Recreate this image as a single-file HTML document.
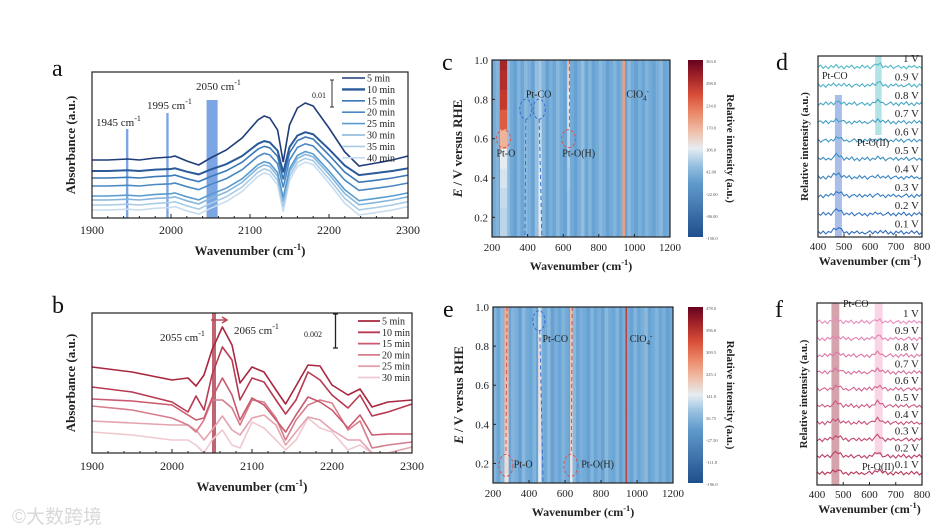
<!DOCTYPE html>
<html><head><meta charset="utf-8">
<style>
html,body{margin:0;padding:0;background:#fff;}
svg{display:block;font-family:"Liberation Serif","Noto Serif CJK SC",serif;}
</style></head>
<body>
<svg id="fig" width="947" height="532" viewBox="0 0 947 532" xmlns="http://www.w3.org/2000/svg">
<rect width="947" height="532" fill="#fff"/>
<text x="12" y="523" font-family="'Liberation Sans','Noto Sans CJK SC',sans-serif" font-size="19" fill="#d8d8d8">©大数跨境</text>
</svg>
<script>
// ---------------- DATA ----------------
// panel a
const aX = [1900,1920,1945,1960,1980,2000,2005,2020,2035,2050,2070,2090,2110,2118,2125,2135,2142,2150,2160,2170,2180,2200,2220,2238,2260,2280,2300];
const aShape = [0,0,1,0,2,3,4,-1,-5,2,10,22,40,44,42,30,-2,35,52,57,54,32,8,-6,-3,0,4];
const aOffset = [58,47,40,32,22,18,13,8];
const aAmp = [1.0,0.68,0.72,0.74,0.78,0.8,0.82,0.84];
const aLabels = ["5 min","10 min","15 min","20 min","25 min","30 min","35 min","40 min"];
const aColors = ["#1f3d7a","#2a5a9a","#3a78b8","#4a88c4","#5a9ccf","#86b6dc","#a8cbe6","#c8dcef"];
// panel b
const bX = [1900,1950,2000,2020,2030,2040,2050,2063,2075,2085,2100,2115,2130,2142,2155,2170,2185,2200,2220,2235,2250,2270,2300];
const b5 = [86,81,73,75,67,78,103,126,108,70,86,81,63,49,67,88,87,68,58,64,46,51,53];
const b10 = [66,61,51,41,57,43,78,106,93,53,75,71,53,39,53,81,73,58,45,58,37,41,49];
const b15 = [54,52,48,38,33,35,55,75,58,33,55,48,33,21,38,56,51,43,25,38,18,19,19];
const b20 = [47,43,35,28,21,33,53,53,45,28,53,51,35,13,33,48,53,50,23,32,5,8,11];
const b25 = [32,30,28,28,23,13,23,37,23,18,35,38,28,8,21,36,33,23,13,13,0,0,6];
const b30 = [21,18,13,13,8,0,13,23,8,5,31,25,13,3,13,35,25,21,3,8,0,0,0];
const bSeries = [b5,b10,b15,b20,b25,b30];
const bLabels = ["5 min","10 min","15 min","20 min","25 min","30 min"];
const bColors = ["#a8263e","#b83a52","#c95a6e","#d67d8c","#e4a3ae","#f0c8cf"];
// heatmaps: columns 200..1200 step 20, rows 0.1..1.0
const hmRows = [0.1,0.2,0.3,0.4,0.5,0.6,0.7,0.8,0.9,1.0];
const cBg = [0.36,0.38,0.34,0.37,0.40,0.36,0.33,0.38,0.35,0.39,0.37,0.34,0.40,0.36,0.38,0.33,0.37,0.35,0.39,0.36,0.34,0.38,0.36,0.33,0.37,0.40,0.35,0.38,0.34,0.36,0.39,0.37,0.33,0.36,0.38,0.35,0.37,0.34,0.39,0.36,0.33,0.37,0.35,0.38,0.36,0.34,0.37,0.39,0.35,0.36];
const cBandCenters = [265,470,630,940];
const cBandWidths = [40,18,14,14];
const cBandPtO = [0.45,0.45,0.46,0.48,0.5,0.62,0.78,0.85,0.88,0.9];
const cBandPtCO = [0.52,0.5,0.5,0.5,0.48,0.47,0.45,0.45,0.42,0.42];
const cBandPtOH = [0.42,0.42,0.42,0.43,0.44,0.45,0.48,0.5,0.55,0.6];
const cBandClO4 = [0.66,0.66,0.66,0.66,0.66,0.66,0.66,0.66,0.66,0.66];
const cTicks = ["363.0","298.0","234.0","170.0","106.0","42.00","-22.00","-86.00","-150.0"];
const eBg = [0.38,0.35,0.39,0.36,0.34,0.38,0.37,0.33,0.39,0.36,0.35,0.38,0.34,0.37,0.36,0.39,0.33,0.37,0.35,0.38,0.36,0.34,0.39,0.35,0.37,0.36,0.33,0.38,0.35,0.37,0.34,0.39,0.36,0.35,0.38,0.33,0.37,0.36,0.34,0.38,0.35,0.37,0.39,0.34,0.36,0.38,0.35,0.37,0.33,0.36];
const eBandCenters = [275,460,635,940];
const eBandWidths = [24,18,14,8];
const eBandPtO = [0.52,0.54,0.56,0.58,0.6,0.6,0.62,0.62,0.63,0.64];
const eBandPtCO = [0.5,0.5,0.52,0.52,0.52,0.53,0.53,0.52,0.5,0.48];
const eBandPtOH = [0.5,0.52,0.55,0.56,0.57,0.58,0.58,0.58,0.6,0.6];
const eBandClO4 = [0.85,0.85,0.85,0.85,0.85,0.85,0.85,0.85,0.85,0.85];
const eTicks = ["478.0","396.8","309.5","225.3","141.0","56.75","-27.50","-111.8","-196.0"];
// stacked spectra d/f : 400..800 step 10
const sX = [400,410,420,430,440,450,460,470,480,490,500,510,520,530,540,550,560,570,580,590,600,610,620,630,640,650,660,670,680,690,700,710,720,730,740,750,760,770,780,790,800];
const sWiggle = [0,1.2,-0.8,0.6,-1.1,0.9,-0.4,1.3,-0.9,0.5,-1.2,0.8,-0.3,1.1,-1.0,0.4,-0.7,1.2,-0.5,0.9,-1.1,0.3,0.8,-0.6,1.0,-0.9,0.6,-0.4,1.1,-1.0,0.2,0.9,-0.8,0.5,-1.2,0.7,-0.3,1.0,-0.6,0.4,-0.9];
const vLabels = ["1 V","0.9 V","0.8 V","0.7 V","0.6 V","0.5 V","0.4 V","0.3 V","0.2 V","0.1 V"];
const dPeak475 = [0.5,1,1.5,2,3,4,4,4,4.5,5];
const dPeak630 = [3,3,3,2.5,1.5,1,1,1,1,1];
const fPeak475 = [2,2,2.5,3,3,3.5,3.5,3.5,4,3];
const fPeak630 = [2,3,3,3.5,3.5,4,4,4,4,3];

// ---------------- HELPERS ----------------
const NS = "http://www.w3.org/2000/svg";
const svg = document.getElementById("fig");
function mk(tag, attrs, parent){const e=document.createElementNS(NS,tag);for(const k in attrs)e.setAttribute(k,attrs[k]);(parent||svg).appendChild(e);return e;}
function txt(x,y,s,size,opts,parent){const t=mk("text",Object.assign({x:x,y:y,"font-size":size,fill:"#222"},opts||{}),parent);t.textContent=s;return t;}
function lin(d0,d1,r0,r1){return v=>r0+(v-d0)/(d1-d0)*(r1-r0);}
function cmap(v){
  const st=[[0,[31,78,140]],[0.35,[106,166,214]],[0.5,[230,237,242]],[0.65,[244,165,130]],[0.82,[214,69,47]],[1,[103,0,31]]];
  v=Math.max(0,Math.min(1,v));
  for(let i=1;i<st.length;i++){if(v<=st[i][0]){const a=st[i-1],b=st[i],t=(v-a[0])/(b[0]-a[0]);return "rgb("+a[1].map((c,k)=>Math.round(c+(b[1][k]-c)*t)).join(",")+")";}}
  return "rgb(103,0,31)";
}
function panelLetter(x,y,s,name){const t=txt(x,y,s,24,{fill:"#111"});}
function xTitle(cx,y,size,name){
  const t=mk("text",{x:cx,y:y,"font-size":size,"font-weight":"bold","text-anchor":"middle",fill:"#222"});
  t.innerHTML='Wavenumber (cm<tspan dy="-5" font-size="'+(size*0.7)+'">-1</tspan><tspan dy="5">)</tspan>';
  
  
  return t;
}
function yTitle(x,cy,s,size,name,html,rot){
  const t=mk("text",{x:0,y:0,"font-size":size,"font-weight":"bold","text-anchor":"middle",fill:"#222",transform:"translate("+x+","+cy+") rotate("+(rot||-90)+")"});
  if(html)t.innerHTML=html;else t.textContent=s;
  
  
  return t;
}
function frame(x0,y0,x1,y1,name){const r=mk("rect",{x:x0,y:y0,width:x1-x0,height:y1-y0,fill:"none",stroke:"#222","stroke-width":1.2});}
function xTicks(sx,ticks,minor,y1,labY,size,name){
  const g=mk("g",{});
  
  
  minor.forEach(v=>mk("line",{x1:sx(v),x2:sx(v),y1:y1,y2:y1-2,stroke:"#222"},g));
  ticks.forEach(v=>{mk("line",{x1:sx(v),x2:sx(v),y1:y1,y2:y1-4,stroke:"#222"},g);txt(sx(v),labY,String(v),size,{"text-anchor":"middle"},g);});
}
function sup(el,base,s){el.innerHTML=base+'<tspan dy="-5" font-size="8">'+s+'</tspan>';}

// ---------------- PANEL A ----------------
(function(){
  const x0=92,x1=408,y0=72,y1=218;
  const sx=lin(1900,2300,x0,x1), sy=lin(0,146,y1,y0);
  panelLetter(52,76,"a","panel-a-label");
  const bands=[[1943,1946,129,"band-1945"],[1994,1997,113,"band-1995"],[2045,2059,100,"band-2050"]];
  bands.forEach(b=>{const r=mk("rect",{x:sx(b[0]),y:b[2],width:sx(b[1])-sx(b[0]),height:y1-b[2],fill:"#5b8fdc","fill-opacity":0.8});});
  const l1=mk("text",{x:96,y:126,"font-size":11,fill:"#222"});sup(l1,"1945 cm","-1");
  const l2=mk("text",{x:147,y:109,"font-size":11,fill:"#222"});sup(l2,"1995 cm","-1");
  const l3=mk("text",{x:196,y:90,"font-size":11,fill:"#222"});sup(l3,"2050 cm","-1");
  for(let k=aOffset.length-1;k>=0;k--){
    const d=aX.map((x,i)=>(i?"L":"M")+sx(x).toFixed(1)+","+sy(aOffset[k]+aAmp[k]*aShape[i]).toFixed(1)).join("");
    const p=mk("path",{d:d,fill:"none",stroke:aColors[k],"stroke-width":k==1?2:1.6});
    
    
  }
  aLabels.forEach((s,k)=>{
    const y=78+k*11.4;
    const g=mk("g",{});
    
    
    mk("line",{x1:342,x2:365,y1:y,y2:y,stroke:aColors[k],"stroke-width":k==1?2.4:1.6},g);
    txt(367,y+3.5,s,10,{},g);
  });
  const sb=mk("path",{d:"M330,80H334M332,80V107M330,107H334",stroke:"#333",fill:"none"});
  
  
  const sbt=txt(312,98,"0.01",8);
  frame(x0,y0,x1,y1,"plot-frame-a");
  xTicks(sx,[1900,2000,2100,2200,2300],[1920,1940,1960,1980,2020,2040,2060,2080,2120,2140,2160,2180,2220,2240,2260,2280],y1,234,12,"x-axis-a");
  xTitle(250,255,13,"x-axis-title-a");
  yTitle(75,145,"Absorbance (a.u.)",13,"y-axis-title-a");
})();

// ---------------- PANEL B ----------------
(function(){
  const x0=92,x1=412,y0=313,y1=453;
  const sx=lin(1900,2300,x0,x1), sy=lin(0,140,y1,y0);
  panelLetter(52,313,"b","panel-b-label");
  const clip=mk("clipPath",{id:"clipb"});mk("rect",{x:x0,y:y0,width:x1-x0,height:y1-y0},clip);
  const band=mk("rect",{x:sx(2050),y:y0,width:sx(2055)-sx(2050),height:y1-y0,fill:"#b54a5a","fill-opacity":0.85});
  
  
  for(let k=bSeries.length-1;k>=0;k--){
    const d=bX.map((x,i)=>(i?"L":"M")+sx(x).toFixed(1)+","+sy(bSeries[k][i]).toFixed(1)).join("");
    const p=mk("path",{d:d,fill:"none",stroke:bColors[k],"stroke-width":1.6,"clip-path":"url(#clipb)","stroke-linejoin":"round"});
    
    
  }
  const arr=mk("path",{d:"M211,320H226M222,317L227,320L222,323",stroke:"#b54a5a",fill:"none","stroke-width":1.5});
  
  
  const l1=mk("text",{x:160,y:341,"font-size":11,fill:"#222"});sup(l1,"2055 cm","-1");
  const l2=mk("text",{x:234,y:334,"font-size":11,fill:"#222"});sup(l2,"2065 cm","-1");
  bLabels.forEach((s,k)=>{
    const y=321+k*11.3;
    const g=mk("g",{});
    
    
    mk("line",{x1:358,x2:380,y1:y,y2:y,stroke:bColors[k],"stroke-width":1.8},g);
    txt(382,y+3.5,s,10,{},g);
  });
  const sb=mk("path",{d:"M333,314H338M335.5,314V348M333,348H338",stroke:"#222",fill:"none","stroke-width":1.3});
  
  
  const sbt=txt(304,337,"0.002",8);
  frame(x0,y0,x1,y1,"plot-frame-b");
  xTicks(sx,[1900,2000,2100,2200,2300],[1920,1940,1960,1980,2020,2040,2060,2080,2120,2140,2160,2180,2220,2240,2260,2280],y1,470,12,"x-axis-b");
  xTitle(252,491,13,"x-axis-title-b");
  yTitle(75,383,"Absorbance (a.u.)",13,"y-axis-title-b");
})();

// ---------------- HEATMAPS ----------------
function heatmap(p){
  const sx=lin(200,1200,p.x0,p.x1), sy=lin(0.1,1.0,p.y1,p.y0);
  panelLetter(p.x0-50,p.y0+10,p.letter,"panel-"+p.letter+"-label");
  const clip=mk("clipPath",{id:"clip"+p.letter});mk("rect",{x:p.x0,y:p.y0,width:p.x1-p.x0,height:p.y1-p.y0},clip);
  const g=mk("g",{"clip-path":"url(#clip"+p.letter+")"});
  
  
  const dy=(p.y1-p.y0)/(hmRows.length-1);
  p.bg.forEach((b,j)=>{
    const wc=200+j*20;
    const col=mk("rect",{x:sx(wc),y:p.y0,width:sx(wc+20)-sx(wc)+0.5,height:p.y1-p.y0,fill:cmap(b)},g);
    
    
  });
  p.centers.forEach((c,m)=>{
    hmRows.forEach((r,i)=>{
      const cell=mk("rect",{x:sx(c-p.widths[m]/2),y:sy(r)-dy/2,width:sx(c+p.widths[m]/2)-sx(c-p.widths[m]/2),height:dy+0.5,fill:cmap(p.bands[m][i])},g);
      
      
    });
  });
  p.ann(sx,sy);
  frame(p.x0,p.y0,p.x1,p.y1,"plot-frame-"+p.letter);
  const xa=mk("g",{});
  
  
  [200,400,600,800,1000,1200].forEach(v=>{mk("line",{x1:sx(v),x2:sx(v),y1:p.y1,y2:p.y1-3,stroke:"#222"},xa);txt(sx(v),p.y1+14,String(v),11,{"text-anchor":"middle"},xa);});
  const ya=mk("g",{});
  
  
  [0.2,0.4,0.6,0.8,1.0].forEach(v=>{mk("line",{x1:p.x0,x2:p.x0+3,y1:sy(v),y2:sy(v),stroke:"#222"},ya);txt(p.x0-4,sy(v)+4,v.toFixed(1),11,{"text-anchor":"end"},ya);});
  xTitle((p.x0+p.x1)/2,p.y1+33,12,"x-axis-title-"+p.letter);
  yTitle(p.x0-30,(p.y0+p.y1)/2,"",13,"y-axis-title-"+p.letter,'<tspan font-style="italic">E</tspan> / V versus RHE');
  const defs=mk("defs",{});
  const lg=mk("linearGradient",{id:"cg"+p.letter,x1:0,y1:1,x2:0,y2:0},defs);
  for(let i=0;i<=10;i++)mk("stop",{offset:i/10,"stop-color":cmap(i/10)},lg);
  const cb=mk("rect",{x:688,y:p.y0,width:15,height:p.y1-p.y0,fill:"url(#cg"+p.letter+")"});
  
  
  const cl=mk("g",{});
  
  
  p.ticks.forEach((s,i)=>txt(706,p.y0+3+i*(p.y1-p.y0)/8,s,4.5,{fill:"#555"},cl));
  yTitle(727,(p.y0+p.y1)/2,"Relative intensity (a.u.)",11,"colorbar-title-"+p.letter,null,90);
}
function dashEll(cx,cy,rx,ry,col,name){const e=mk("ellipse",{cx:cx,cy:cy,rx:rx,ry:ry,fill:"none",stroke:col,"stroke-dasharray":"3,2","stroke-width":1});}
function dashLine(xa,ya,xb,yb,col,name){const l=mk("line",{x1:xa,y1:ya,x2:xb,y2:yb,stroke:col,"stroke-dasharray":"4,3","stroke-width":1});}
function annText(x,y,s,name,html){const t=mk("text",{x:x,y:y,"font-size":10,fill:"#222"});if(html)t.innerHTML=html;else t.textContent=s;}
const RED="#d9534f", BLUE="#3b6fd0";
heatmap({letter:"c",x0:492,x1:670,y0:60,y1:237,bg:cBg,centers:cBandCenters,widths:cBandWidths,bands:[cBandPtO,cBandPtCO,cBandPtOH,cBandClO4],ticks:cTicks,
  ann:(sx,sy)=>{
    dashEll(sx(265),sy(0.6),7,9,RED,"pt-o-circle-c");
    dashEll(sx(390),sy(0.75),6,10,BLUE,"pt-co-circle-c1");
    dashEll(sx(465),sy(0.75),6,10,BLUE,"pt-co-circle-c2");
    dashLine(sx(390),sy(0.7),sx(385),sy(0.1),BLUE,"pt-co-line-c1");
    dashLine(sx(465),sy(0.7),sx(480),sy(0.1),BLUE,"pt-co-line-c2");
    dashLine(sx(635),sy(1.0),sx(635),sy(0.66),RED,"pt-oh-line-c");
    dashEll(sx(630),sy(0.6),7,9,RED,"pt-oh-circle-c");
    annText(sx(225),sy(0.51),"Pt-O","label-pt-o-c");
    annText(sx(390),sy(0.81),"Pt-CO","label-pt-co-c");
    annText(sx(595),sy(0.51),"Pt-O(H)","label-pt-oh-c");
    annText(sx(955),sy(0.81),"","label-clo4-c",'ClO<tspan dy="3" font-size="7">4</tspan><tspan dy="-7" font-size="7">-</tspan>');
  }});
heatmap({letter:"e",x0:493,x1:673,y0:307,y1:483,bg:eBg,centers:eBandCenters,widths:eBandWidths,bands:[eBandPtO,eBandPtCO,eBandPtOH,eBandClO4],ticks:eTicks,
  ann:(sx,sy)=>{
    dashLine(sx(278),sy(1.0),sx(272),sy(0.26),RED,"pt-o-line-e");
    dashEll(sx(272),sy(0.19),7,11,RED,"pt-o-circle-e");
    dashEll(sx(455),sy(0.93),6,10,BLUE,"pt-co-circle-e");
    dashLine(sx(460),sy(0.88),sx(478),sy(0.1),BLUE,"pt-co-line-e");
    dashLine(sx(640),sy(1.0),sx(635),sy(0.26),RED,"pt-oh-line-e");
    dashEll(sx(632),sy(0.19),7,11,RED,"pt-oh-circle-e");
    annText(sx(315),sy(0.18),"Pt-O","label-pt-o-e");
    annText(sx(475),sy(0.82),"Pt-CO","label-pt-co-e");
    annText(sx(690),sy(0.18),"Pt-O(H)","label-pt-oh-e");
    annText(sx(960),sy(0.82),"","label-clo4-e",'ClO<tspan dy="3" font-size="7">4</tspan><tspan dy="-7" font-size="7">-</tspan>');
  }});

// ---------------- STACKED SPECTRA ----------------
function stack(p){
  const sx=lin(400,800,p.x0,p.x1);
  panelLetter(p.x0-42,p.y0+14,p.letter,"panel-"+p.letter+"-label");
  p.bandsR.forEach((b,i)=>{const r=mk("rect",{x:sx(b[0]),y:b[2],width:sx(b[1])-sx(b[0]),height:b[3]-b[2],fill:b[4],"fill-opacity":b[5]});});
  vLabels.forEach((s,k)=>{
    const base=p.top+k*p.step;
    const d=sX.map((x,i)=>{
      const y=base-p.pk1[k]*Math.exp(-Math.pow((x-475)/18,2))-p.pk2[k]*Math.exp(-Math.pow((x-632)/15,2))-sWiggle[(i+k*7)%sWiggle.length]*1.6;
      return (i?"L":"M")+sx(x).toFixed(1)+","+y.toFixed(1);}).join("");
    const path=mk("path",{d:d,fill:"none",stroke:p.colors[k],"stroke-width":1.1});
    
    
    const t=txt(p.x1-3,base-5,s,11,{"text-anchor":"end"});
    
    
  });
  p.ann();
  frame(p.x0,p.y0,p.x1,p.y1,"plot-frame-"+p.letter);
  const xa=mk("g",{});
  
  
  [400,500,600,700,800].forEach(v=>{mk("line",{x1:sx(v),x2:sx(v),y1:p.y1,y2:p.y1-3,stroke:"#222"},xa);txt(sx(v),p.y1+13,String(v),11,{"text-anchor":"middle"},xa);});
  xTitle((p.x0+p.x1)/2,p.y1+28,12,"x-axis-title-"+p.letter);
  yTitle(p.x0-10,(p.y0+p.y1)/2,"Relative intensity (a.u.)",11,"y-axis-title-"+p.letter);
}
function mix(a,b,t){return "rgb("+a.map((c,i)=>Math.round(c+(b[i]-c)*t)).join(",")+")";}
stack({letter:"d",x0:818,x1:922,y0:56,y1:237,top:67,step:18.4,pk1:dPeak475,pk2:dPeak630,
  colors:vLabels.map((s,k)=>mix([80,186,198],[47,107,192],k/9)),
  bandsR:[[465,492,95,237,"#6f95dc",0.6],[620,645,56,135,"#7fd0d6",0.6]],
  ann:()=>{annText(822,79,"Pt-CO","label-pt-co-d");annText(857,146,"Pt-O(II)","label-pt-oii-d");}});
stack({letter:"f",x0:817,x1:922,y0:303,y1:485,top:322,step:16.8,pk1:fPeak475,pk2:fPeak630,
  colors:vLabels.map((s,k)=>mix([232,140,190],[184,52,88],k/9)),
  bandsR:[[455,485,303,485,"#c27c88",0.7],[620,650,303,455,"#f6c3dc",0.7]],
  ann:()=>{annText(843,307,"Pt-CO","label-pt-co-f");annText(862,470,"Pt-O(II)","label-pt-oii-f");}});
</script>
</body></html>
